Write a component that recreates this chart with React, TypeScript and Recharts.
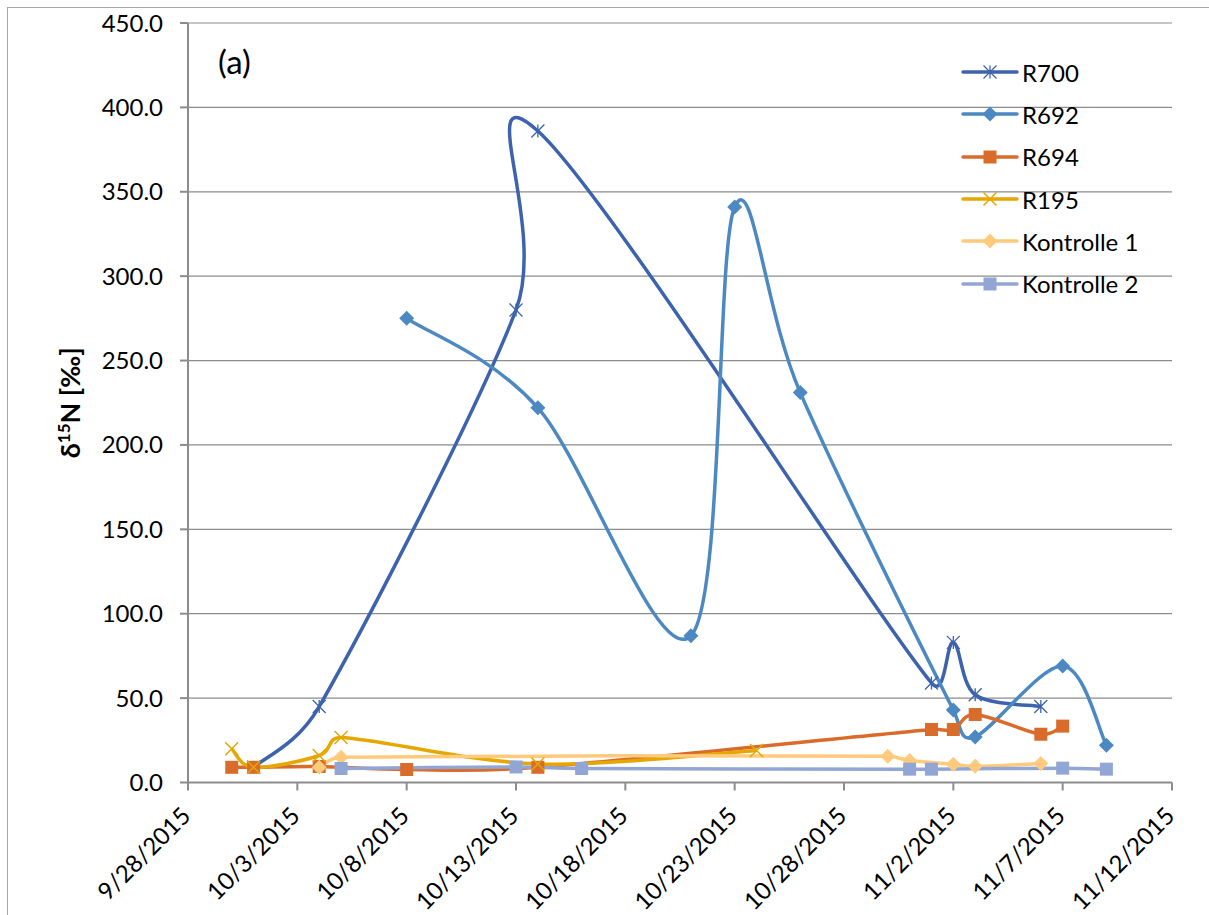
import React from 'react';
import { LineChart, Line, XAxis, YAxis, CartesianGrid } from 'recharts';

// sampling dates (M/D, 2015) and δ15N values per plot
const r700Dates = ['10/1', '10/4', '10/13', '10/14', '11/1', '11/2', '11/3', '11/6'];
const r700Values = [9, 45, 280, 386, 59, 83, 52, 45];

const r692Dates = ['10/8', '10/14', '10/21', '10/23', '10/26', '11/2', '11/3', '11/7', '11/9'];
const r692Values = [275, 222, 87, 341, 231, 43, 27, 69, 22];

const r694Dates = ['9/30', '10/1', '10/4', '10/8', '10/14', '11/1', '11/2', '11/3', '11/6', '11/7'];
const r694Values = [9, 9, 9.5, 7.7, 9, 31.4, 31.4, 40.3, 28.6, 33.4];

const r195Dates = ['9/30', '10/1', '10/4', '10/5', '10/14', '10/24'];
const r195Values = [20, 9, 16, 26.7, 11, 19];

const k1Dates = ['10/4', '10/5', '10/30', '10/31', '11/2', '11/3', '11/6'];
const k1Values = [9, 15, 15.5, 13, 10.8, 9.6, 11.2];

const k2Dates = ['10/5', '10/13', '10/16', '10/31', '11/1', '11/7', '11/9'];
const k2Values = [8.3, 9.2, 8.3, 7.9, 7.9, 8.5, 7.9];

const yTicks = [0, 50, 100, 150, 200, 250, 300, 350, 400, 450];
const xTicks = [0, 5, 10, 15, 20, 25, 30, 35, 40, 45];

const START = Date.UTC(2015, 8, 28);
const DAY = 86400000;

const toDay = (md: string) => {
  const [m, d] = md.split('/').map(Number);
  return Math.round((Date.UTC(2015, m - 1, d) - START) / DAY);
};

const dayLabel = (day: number) => {
  const dt = new Date(START + day * DAY);
  return `${dt.getUTCMonth() + 1}/${dt.getUTCDate()}/${dt.getUTCFullYear()}`;
};

const toRows = (dates: string[], values: number[]) =>
  dates.map((d, i) => ({ day: toDay(d), value: values[i] }));

type Marker = 'star' | 'diamond' | 'square' | 'cross';

const series: { name: string; color: string; marker: Marker; data: { day: number; value: number }[] }[] = [
  { name: 'R700', color: '#3D63AE', marker: 'star', data: toRows(r700Dates, r700Values) },
  { name: 'R692', color: '#4C89C3', marker: 'diamond', data: toRows(r692Dates, r692Values) },
  { name: 'R694', color: '#D96C2B', marker: 'square', data: toRows(r694Dates, r694Values) },
  { name: 'R195', color: '#E5A700', marker: 'cross', data: toRows(r195Dates, r195Values) },
  { name: 'Kontrolle 1', color: '#FFCA7C', marker: 'diamond', data: toRows(k1Dates, k1Values) },
  { name: 'Kontrolle 2', color: '#92A6D6', marker: 'square', data: toRows(k2Dates, k2Values) },
];

const FONT = 'Lato, "Open Sans", sans-serif';
const AXIS = '#8C8C8C';

// Excel-style smoothed line: Bezier segments with Catmull-Rom tangents (1/6),
// each handle capped at half the length of its own segment
const excelSmooth = (context: any) => {
  let pts: [number, number][] = [];
  const handle = (from: [number, number], to: [number, number], seg: number) => {
    const dx = to[0] - from[0];
    const dy = to[1] - from[1];
    const len = Math.hypot(dx, dy);
    if (len === 0) return [0, 0];
    const f = len / 6 < seg / 2 ? 1 / 6 : seg / 2 / len;
    return [dx * f, dy * f];
  };
  return {
    areaStart() {},
    areaEnd() {},
    lineStart() {
      pts = [];
    },
    point(x: number, y: number) {
      pts.push([+x, +y]);
    },
    lineEnd() {
      if (!pts.length) return;
      context.moveTo(pts[0][0], pts[0][1]);
      for (let i = 0; i < pts.length - 1; i++) {
        const p0 = pts[i - 1] || pts[i];
        const p1 = pts[i];
        const p2 = pts[i + 1];
        const p3 = pts[i + 2] || pts[i + 1];
        const seg = Math.hypot(p2[0] - p1[0], p2[1] - p1[1]);
        const h1 = handle(p0, p2, seg);
        const h2 = handle(p1, p3, seg);
        context.bezierCurveTo(p1[0] + h1[0], p1[1] + h1[1], p2[0] - h2[0], p2[1] - h2[1], p2[0], p2[1]);
      }
    },
  };
};

const MarkerShape = ({ cx, cy, marker, color }: { cx: number; cy: number; marker: Marker; color: string }) => {
  if (marker === 'diamond') {
    const r = 7.5;
    return <path d={`M${cx},${cy - r}L${cx + r},${cy}L${cx},${cy + r}L${cx - r},${cy}Z`} fill={color} />;
  }
  if (marker === 'square') {
    const s = 13;
    return <rect x={cx - s / 2} y={cy - s / 2} width={s} height={s} fill={color} />;
  }
  if (marker === 'cross') {
    const r = 6.5;
    return (
      <path
        d={`M${cx - r},${cy - r}L${cx + r},${cy + r}M${cx - r},${cy + r}L${cx + r},${cy - r}`}
        stroke={color}
        strokeWidth={1.5}
        fill="none"
      />
    );
  }
  const r = 6.5;
  return (
    <path
      d={`M${cx},${cy - r}L${cx},${cy + r}M${cx - r},${cy - r}L${cx + r},${cy + r}M${cx - r},${cy + r}L${cx + r},${cy - r}`}
      stroke={color}
      strokeWidth={1.3}
      fill="none"
    />
  );
};

const makeDot = (marker: Marker, color: string) => (props: any) => {
  const { cx, cy, index } = props;
  if (cx == null || cy == null) return <g key={`dot-${index}`} />;
  return (
    <g key={`dot-${index}`}>
      <MarkerShape cx={cx} cy={cy} marker={marker} color={color} />
    </g>
  );
};

const DateTick = (props: any) => {
  const { x, y, payload } = props;
  const ax = x + 4;
  const ay = y + 27;
  return (
    <text
      x={ax}
      y={ay}
      transform={`rotate(-45, ${ax}, ${ay})`}
      textAnchor="end"
      fontFamily={FONT}
      fontSize={24}
      fill="#000"
    >
      {dayLabel(payload.value)}
    </text>
  );
};

const LegendList = () => (
  <div style={{ fontFamily: FONT, fontSize: 24, color: '#000' }}>
    {series.map((s) => (
      <div key={s.name} style={{ display: 'flex', alignItems: 'center', height: 42.3 }}>
        <svg width={58} height={20} style={{ marginRight: 3 }}>
          <line x1={2} y1={10} x2={56} y2={10} stroke={s.color} strokeWidth={3.5} strokeLinecap="round" />
          <MarkerShape cx={29} cy={10} marker={s.marker} color={s.color} />
        </svg>
        <span>{s.name}</span>
      </div>
    ))}
  </div>
);

const YTitle = (props: any) => {
  const { viewBox } = props;
  const cx = 72;
  const cy = viewBox.y + viewBox.height / 2;
  return (
    <text
      x={cx}
      y={cy}
      transform={`rotate(-90, ${cx}, ${cy})`}
      textAnchor="middle"
      fontFamily={FONT}
      fontWeight="bold"
      fontSize={27}
      fill="#000"
    >
      δ
      <tspan baselineShift="super" fontSize={17}>
        15
      </tspan>
      N [‰]
    </text>
  );
};

export default function App() {
  return (
    <div
      style={{
        position: 'absolute',
        left: 7,
        top: 7,
        width: 1202,
        height: 908,
        borderLeft: '1px solid #A6A6A6',
        borderTop: '1px solid #A6A6A6',
        background: '#fff',
      }}
    >
      <div
        style={{
          position: 'absolute',
          left: 210,
          top: 33,
          fontFamily: FONT,
          fontSize: 33,
          color: '#000',
          zIndex: 2,
        }}
      >
        (a)
      </div>
      <div style={{ position: 'absolute', left: 953, top: 43, zIndex: 2 }}>
        <LegendList />
      </div>
      <LineChart width={1201} height={907} margin={{ top: 15, right: 37, left: 0, bottom: 0 }}>
        <CartesianGrid vertical={false} stroke={AXIS} strokeWidth={1.2} />
        <XAxis
          type="number"
          dataKey="day"
          domain={[0, 45]}
          ticks={xTicks}
          allowDataOverflow
          height={132.5}
          stroke={AXIS}
          strokeWidth={2}
          tickSize={8}
          tickMargin={0}
          tick={<DateTick />}
          interval={0}
        />
        <YAxis
          type="number"
          domain={[0, 450]}
          ticks={yTicks}
          width={180}
          stroke={AXIS}
          strokeWidth={2}
          tickSize={8}
          tickMargin={17}
          tickFormatter={(v: number) => v.toFixed(1)}
          tick={{ fontFamily: FONT, fontSize: 24, fill: '#000' }}
          interval={0}
          label={<YTitle />}
        />
        {series.map((s) => (
          <Line
            key={s.name}
            data={s.data}
            dataKey="value"
            name={s.name}
            type={excelSmooth as any}
            stroke={s.color}
            strokeWidth={3.5}
            dot={makeDot(s.marker, s.color)}
            activeDot={false}
            isAnimationActive={false}
          />
        ))}
      </LineChart>
    </div>
  );
}
